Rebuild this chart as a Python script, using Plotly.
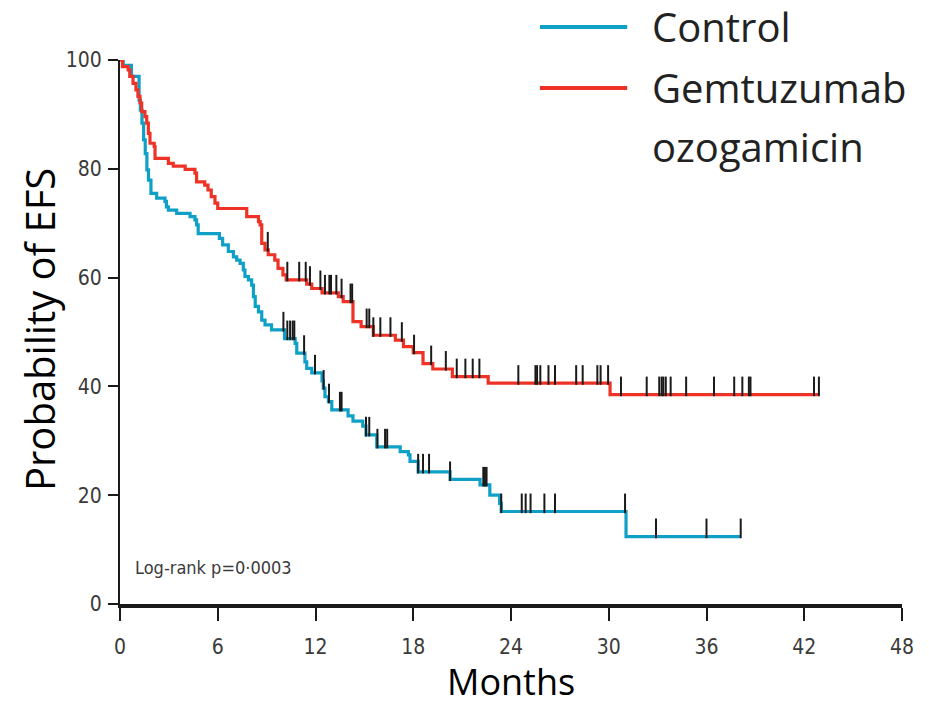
import numpy as np
import plotly.graph_objects as go

# ---------------- data ----------------
ctrl_t = [0, 0.2, 0.7, 1.17, 1.25, 1.35, 1.45, 1.55, 1.65, 1.75, 1.9, 2.25, 2.76, 2.85, 2.97,
          3.48, 4.3, 4.6, 4.7, 4.8, 6.1, 6.3, 6.65, 6.96, 7.16, 7.37, 7.57, 7.67, 7.88, 8.08,
          8.19, 8.3, 8.5, 8.7, 8.9, 9.3, 10.1, 10.75, 10.85, 11.35, 11.46, 11.77, 12.4, 12.48,
          12.58, 12.79, 13.0, 14.0, 14.3, 14.9, 15.1, 15.76, 17.2, 17.7, 17.8, 18.3, 20.26,
          22.1, 22.7, 23.3, 23.4, 31.06, 38.1]
ctrl_s = [100, 99.0, 97.0, 92.6, 90.8, 88.4, 85.3, 82.8, 79.8, 77.9, 75.5, 74.6, 74.0, 73.0, 72.4,
          71.8, 71.2, 70.6, 69.7, 68.1, 67.2, 66.0, 64.8, 63.8, 63.2, 62.6, 61.4, 60.2, 59.6, 58.6,
          56.5, 54.7, 53.7, 52.2, 51.3, 50.4, 48.8, 47.9, 46.1, 44.5, 43.3, 42.5, 41.0, 39.7,
          38.1, 37.2, 35.7, 34.6, 33.6, 32.7, 31.1, 28.9, 28.0, 27.4, 26.2, 24.3, 22.9,
          21.9, 20.0, 18.5, 17.0, 12.4, 12.4]
ctrl_cens = [10.03, 10.27, 10.44, 10.6, 10.7, 11.3, 11.97, 12.5, 12.83, 13.5, 13.6, 15.1, 15.3,
             15.8, 16.27, 16.4, 18.3, 18.6, 18.97, 20.26, 22.3, 22.4, 22.5, 23.4, 24.66, 24.9,
             25.2, 26.05, 26.7, 31.0, 32.9, 36.0, 38.1]

go_t = [0, 0.15, 0.5, 0.6, 0.8, 0.98, 1.1, 1.23, 1.33, 1.53, 1.64, 1.74, 1.84, 2.1, 2.15, 2.97,
        3.27, 4.0, 4.6, 4.7, 5.2, 5.4, 5.6, 5.83, 6.0, 7.78, 8.5, 8.6, 8.7, 8.9, 9.1, 9.5, 9.7,
        10.0, 10.2, 11.46, 11.77, 12.4, 13.4, 13.7, 14.3, 14.8, 15.55, 16.9, 17.4, 18.0, 18.6,
        19.2, 20.4, 22.6, 30.08, 42.9]
go_s = [100, 98.8, 98.2, 97.0, 95.7, 94.5, 93.3, 92.1, 90.5, 89.6, 88.4, 86.5, 84.7, 84.1, 81.9, 81.0,
        80.5, 79.9, 79.2, 77.6, 77.0, 76.1, 74.9, 73.7, 72.7, 71.2, 70.3, 69.7, 66.3, 65.1, 64.2, 63.2, 61.7,
        60.5, 59.6, 58.8, 58.0, 57.2, 56.5, 55.6, 51.9, 51.0, 49.4, 48.5, 47.3, 46.2, 44.2,
        43.2, 41.8, 40.6, 38.5, 38.5]
go_cens = [9.07, 10.27, 11.0, 11.4, 11.66, 12.3, 12.58, 12.85, 12.95, 13.28, 13.6, 14.15, 14.25,
           15.14, 15.3, 15.55, 15.98, 16.6, 17.3, 18.05, 19.1, 20.0, 20.67, 21.2, 21.65, 22.06,
           24.45, 25.5, 25.6, 25.8, 26.3, 26.7, 28.0, 28.4, 29.3, 29.5, 29.96, 30.75, 32.33, 33.1,
           33.25, 33.35, 33.5, 33.8, 34.75, 36.46, 37.7, 38.2, 38.6, 38.7, 42.6, 42.9]

x_ticks = [0, 6, 12, 18, 24, 30, 36, 42, 48]
y_ticks = [0, 20, 40, 60, 80, 100]

BLUE = "#0fa0c8"
RED = "#ee3226"
TICKFONT = "Liberation Sans Narrow, DejaVu Sans Condensed, Roboto, sans-serif"
BIGFONT = "Open Sans, Lato, sans-serif"


def step_value(times, surv, t):
    i = np.searchsorted(np.asarray(times), t, side="right") - 1
    return np.asarray(surv)[i]


fig = go.Figure()
for t, s, cens, col in [(ctrl_t, ctrl_s, ctrl_cens, BLUE), (go_t, go_s, go_cens, RED)]:
    fig.add_trace(go.Scatter(x=t, y=s, mode="lines", line=dict(color=col, width=3.2, shape="hv"),
                             showlegend=False, hoverinfo="skip"))
for t, s, cens in [(ctrl_t, ctrl_s, ctrl_cens), (go_t, go_s, go_cens)]:
    cy = [step_value(t, s, c) + 1.5 for c in cens]
    fig.add_trace(go.Scatter(x=cens, y=cy, mode="markers", showlegend=False, hoverinfo="skip",
                             marker=dict(symbol="line-ns", size=14,
                                         line=dict(color="#1a1a1a", width=2))))

fig.update_xaxes(range=[0, 48], tickvals=x_ticks, ticktext=[str(v) for v in x_ticks],
                 showline=True, linecolor="#1a1a1a", linewidth=4, ticks="outside", ticklen=13,
                 tickwidth=2, tickcolor="#1a1a1a", showgrid=False, zeroline=False,
                 tickfont=dict(family=TICKFONT, size=21, color="#3a3a3a"), ticklabelstandoff=8)
fig.update_yaxes(range=[0, 100], tickvals=y_ticks, ticktext=[str(v) for v in y_ticks],
                 showline=True, linecolor="#1a1a1a", linewidth=2, ticks="outside", ticklen=10,
                 tickwidth=2, tickcolor="#1a1a1a", showgrid=False, zeroline=False,
                 tickfont=dict(family=TICKFONT, size=21, color="#3a3a3a"), ticklabelstandoff=2)

# Legend drawn manually (long line samples as in the reference)
fig.add_shape(type="line", xref="paper", yref="paper", x0=0.537, x1=0.6486, y0=1.0607, y1=1.0607,
              line=dict(color=BLUE, width=4))
fig.add_shape(type="line", xref="paper", yref="paper", x0=0.537, x1=0.6486, y0=0.9485, y1=0.9485,
              line=dict(color=RED, width=4))
legfont = dict(family=BIGFONT, size=40, color="#222222")
fig.add_annotation(text="Control", xref="paper", yref="paper", x=0.678, y=1.061,
                   xanchor="left", yanchor="middle", showarrow=False, font=legfont)
fig.add_annotation(text="Gemtuzumab", xref="paper", yref="paper", x=0.678, y=0.949,
                   xanchor="left", yanchor="middle", showarrow=False, font=legfont)
fig.add_annotation(text="ozogamicin", xref="paper", yref="paper", x=0.678, y=0.841,
                   xanchor="left", yanchor="middle", showarrow=False, font=legfont)

fig.add_annotation(text="Probability of EFS", xref="paper", yref="paper", x=-0.102, y=0.504,
                   textangle=-90, xanchor="center", yanchor="middle", showarrow=False,
                   font=dict(family=BIGFONT, size=40, color="black"))
fig.add_annotation(text="Months", xref="paper", yref="paper", x=0.5, y=-0.142,
                   xanchor="center", yanchor="middle", showarrow=False,
                   font=dict(family=BIGFONT, size=36, color="black"))
fig.add_annotation(text="Log-rank p=0·0003", xref="paper", yref="paper", x=0.0166, y=0.068,
                   xanchor="left", yanchor="middle", showarrow=False,
                   font=dict(family=TICKFONT, size=18, color="#3a3a3a"))

fig.update_layout(width=929, height=710, plot_bgcolor="white", paper_bgcolor="white",
                  margin=dict(l=120, r=27, t=60, b=106), showlegend=False)

fig.write_html("out.html")
